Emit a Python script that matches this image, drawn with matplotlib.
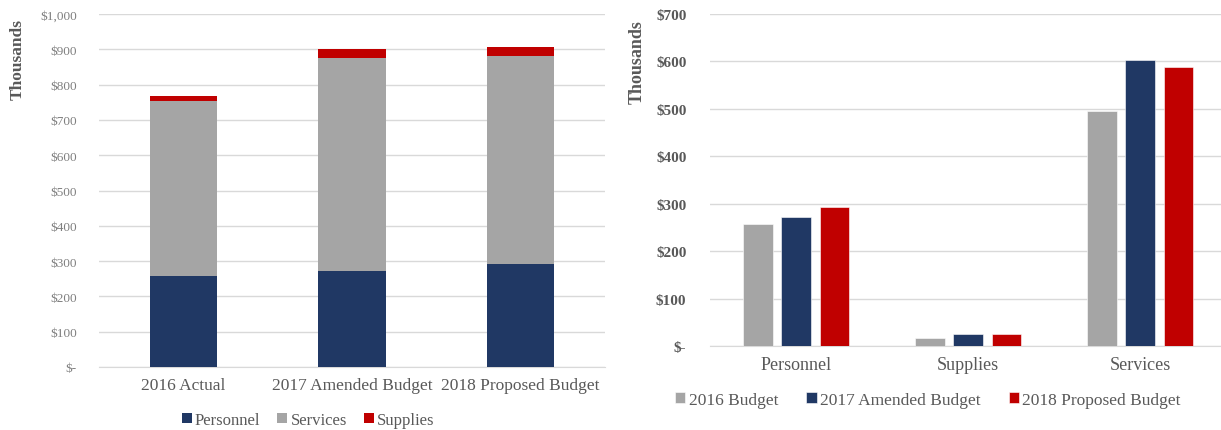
import matplotlib
matplotlib.use("Agg")
import matplotlib.pyplot as plt
from matplotlib.ticker import FuncFormatter
import numpy as np

plt.rcParams['font.family'] = ['Liberation Serif', 'DejaVu Serif']

# Budget by category, in thousands of dollars
categories = ["Personnel", "Supplies", "Services"]
periods_left = ["2016 Actual", "2017 Amended Budget", "2018 Proposed Budget"]
series_right = ["2016 Budget", "2017 Amended Budget", "2018 Proposed Budget"]

personnel = [257, 273, 293]
supplies = [16, 25, 26]
services = [496, 603, 588]

NAVY = "#203864"
GRAY = "#A5A5A5"
RED = "#C00000"
GRID = "#D9D9D9"
TXT = "#595959"


def money(v, _pos):
    if v == 0:
        return "$-"
    return "${:,.0f}".format(v)


W, H = 1221, 431
fig = plt.figure(figsize=(W / 100, H / 100), dpi=100)

# ---- Left: stacked columns by period ----
axL = fig.add_axes([99 / W, (H - 368) / H, 506 / W, 353 / H])
x = np.arange(len(periods_left))
p = np.array(personnel)
s = np.array(services)
u = np.array(supplies)
axL.bar(x, p, 0.4, color=NAVY, label="Personnel", zorder=3)
axL.bar(x, s, 0.4, bottom=p, color=GRAY, label="Services", zorder=3)
axL.bar(x, u, 0.4, bottom=p + s, color=RED, label="Supplies", zorder=3)
axL.set_xlim(-0.5, 2.5)
axL.set_ylim(0, 1000)
axL.set_yticks(np.arange(0, 1001, 100))
axL.yaxis.set_major_formatter(FuncFormatter(money))
axL.set_xticks(x)
axL.set_xticklabels(periods_left)
axL.grid(axis="y", color=GRID, linewidth=1, zorder=0)
for sp in ["top", "right", "left"]:
    axL.spines[sp].set_visible(False)
axL.spines["bottom"].set_color(GRID)
axL.tick_params(axis="both", length=0)
axL.tick_params(axis="y", pad=16, labelsize=9.5, labelcolor="#7F7F7F")
axL.tick_params(axis="x", pad=7, labelsize=12.5, labelcolor=TXT)
fig.text(18 / W, (H - 60) / H, "Thousands", rotation=90, ha="center", va="center",
         fontsize=12.5, fontweight="bold", color=TXT)
axL.legend(loc="center", bbox_to_anchor=(308 / W, (H - 421) / H),
           bbox_transform=fig.transFigure, ncol=3, frameon=False,
           fontsize=12, labelcolor=TXT, handlelength=0.6, handleheight=0.6,
           handletextpad=0.2, columnspacing=1.0, borderpad=0)

# ---- Right: grouped columns by category ----
axR = fig.add_axes([710 / W, (H - 347) / H, 511 / W, 332 / H])
xc = np.arange(len(categories))
by_cat = np.array([personnel, supplies, services])  # rows: categories, cols: periods
colors_right = [GRAY, NAVY, RED]
bw = 0.173
step = 0.223
for i, (name, col) in enumerate(zip(series_right, colors_right)):
    axR.bar(xc + (i - 1) * step, by_cat[:, i], bw, color=col, label=name,
            edgecolor="white", linewidth=0.4, zorder=3)
axR.set_xlim(-0.5, 2.47)
axR.set_ylim(0, 700)
axR.set_yticks(np.arange(0, 701, 100))
axR.yaxis.set_major_formatter(FuncFormatter(money))
axR.set_xticks(xc)
axR.set_xticklabels(categories)
axR.grid(axis="y", color=GRID, linewidth=1, zorder=0)
for sp in ["top", "right", "left"]:
    axR.spines[sp].set_visible(False)
axR.spines["bottom"].set_color(GRID)
axR.tick_params(axis="both", length=0)
axR.tick_params(axis="y", pad=17, labelsize=11, labelcolor=TXT)
for t in axR.get_yticklabels():
    t.set_fontweight("bold")
axR.tick_params(axis="x", pad=7, labelsize=13, labelcolor=TXT)
fig.text(637 / W, (H - 62) / H, "Thousands", rotation=90, ha="center", va="center",
         fontsize=13, fontweight="bold", color=TXT)
axR.legend(loc="center", bbox_to_anchor=(928 / W, (H - 401) / H),
           bbox_transform=fig.transFigure, ncol=3, frameon=False,
           fontsize=12.5, labelcolor=TXT, handlelength=0.6, handleheight=0.6,
           handletextpad=0.2, columnspacing=1.6, borderpad=0)

fig.savefig("out.png", dpi=100)
